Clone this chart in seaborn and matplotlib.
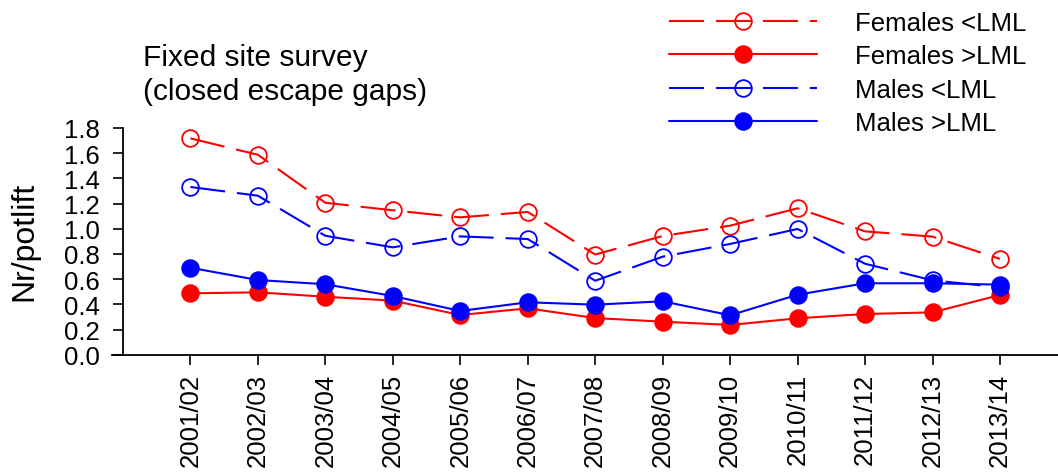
import numpy as np
import pandas as pd
import matplotlib
matplotlib.use("Agg")
import matplotlib.pyplot as plt
import seaborn as sns
from matplotlib.lines import Line2D

# ---- data ----
seasons = ["2001/02", "2002/03", "2003/04", "2004/05", "2005/06", "2006/07",
           "2007/08", "2008/09", "2009/10", "2010/11", "2011/12", "2012/13", "2013/14"]
females_below = [1.717, 1.587, 1.206, 1.146, 1.090, 1.133, 0.795, 0.942, 1.024, 1.162, 0.979, 0.937, 0.760]
females_above = [0.487, 0.495, 0.460, 0.429, 0.315, 0.368, 0.291, 0.262, 0.236, 0.289, 0.323, 0.336, 0.474]
males_below = [1.331, 1.262, 0.944, 0.852, 0.939, 0.918, 0.587, 0.778, 0.879, 0.998, 0.722, 0.590, 0.535]
males_above = [0.690, 0.593, 0.559, 0.466, 0.347, 0.416, 0.397, 0.424, 0.313, 0.476, 0.567, 0.567, 0.556]
series_names = ["Females <LML", "Females >LML", "Males <LML", "Males >LML"]
y_ticks = [0.0, 0.2, 0.4, 0.6, 0.8, 1.0, 1.2, 1.4, 1.6, 1.8]
title_lines = ["Fixed site survey", "(closed escape gaps)"]
y_label = "Nr/potlift"

sns.set_style("ticks")
plt.rcParams["font.family"] = ["Liberation Sans", "DejaVu Sans"]
plt.rcParams["lines.scale_dashes"] = False
for k in ["text.color", "axes.labelcolor", "xtick.color", "ytick.color", "axes.edgecolor"]:
    plt.rcParams[k] = "black"

W, H = 1058, 477
fig = plt.figure(figsize=(W / 100, H / 100), dpi=100)
ax_l, ax_r, ax_b, ax_t = 112, 1058, 355.7, 120
ax = fig.add_axes([ax_l / W, 1 - ax_b / H, (ax_r - ax_l) / W, (ax_b - ax_t) / H])

xpos = np.arange(len(seasons))
df = pd.DataFrame({
    "x": np.tile(xpos, 4),
    "value": females_below + females_above + males_below + males_above,
    "series": np.repeat(series_names, len(seasons)),
})

dash = (0, (25.2, 8.6))
styles = {
    "Females <LML": dict(color="#ff0000", linestyle=dash, mfc="none"),
    "Females >LML": dict(color="#ff0000", linestyle="-", mfc="#ff0000"),
    "Males <LML": dict(color="#0000ff", linestyle=dash, mfc="none"),
    "Males >LML": dict(color="#0000ff", linestyle="-", mfc="#0000ff"),
}
ms, lw, mew = 12, 1.5, 1.3
handles = []
for name in series_names:
    st = styles[name]
    sub = df[df["series"] == name]
    sns.lineplot(data=sub, x="x", y="value", ax=ax, color=st["color"],
                 linestyle=st["linestyle"], marker="o", markersize=ms,
                 markerfacecolor=st["mfc"], markeredgecolor=st["color"],
                 markeredgewidth=mew, linewidth=lw, legend=False)
    handles.append(Line2D([], [], color=st["color"], linestyle=st["linestyle"],
                          marker="o", markersize=ms, markerfacecolor=st["mfc"],
                          markeredgecolor=st["color"], markeredgewidth=mew,
                          linewidth=lw, label=name))

for s in ["top", "right"]:
    ax.spines[s].set_visible(False)
ax.spines["left"].set_position(("data", -1))
ax.spines["left"].set_bounds(0, 1.8)
for s in ["left", "bottom"]:
    ax.spines[s].set_linewidth(1.3)
    ax.spines[s].set_color("black")

ax.set_xlim(-1.162, 12.86)
ax.set_ylim(0, (ax_b - ax_t) / 126.0)
ax.set_xticks(xpos)
ax.set_xticklabels(seasons, rotation=90, fontsize=18.5)
ax.set_yticks(y_ticks)
ax.set_yticklabels([f"{v:.1f}" for v in y_ticks], fontsize=18.5)
ax.tick_params(axis="both", length=7.2, width=1.2, color="black", direction="out",
               labelcolor="black")
ax.tick_params(axis="y", pad=9.5)
ax.tick_params(axis="x", pad=6)
ax.set_xlabel("")
ax.set_ylabel("")
ax.set_facecolor("white")

fig.text(24 / W, 1 - 241 / H, y_label, rotation=90, ha="center", va="center", fontsize=23)
fig.text(143 / W, 1 - 66 / H, title_lines[0], ha="left", va="baseline", fontsize=21.5)
fig.text(143 / W, 1 - 100 / H, title_lines[1], ha="left", va="baseline", fontsize=21.5)

fig.legend(handles=handles, loc="upper left", bbox_to_anchor=(669 / W, 1 - 12 / H),
           frameon=False, fontsize=18.5, handlelength=5.76, handletextpad=1.48,
           borderpad=0, borderaxespad=0, labelspacing=0.36, numpoints=1)

fig.savefig("out.png", dpi=100)
